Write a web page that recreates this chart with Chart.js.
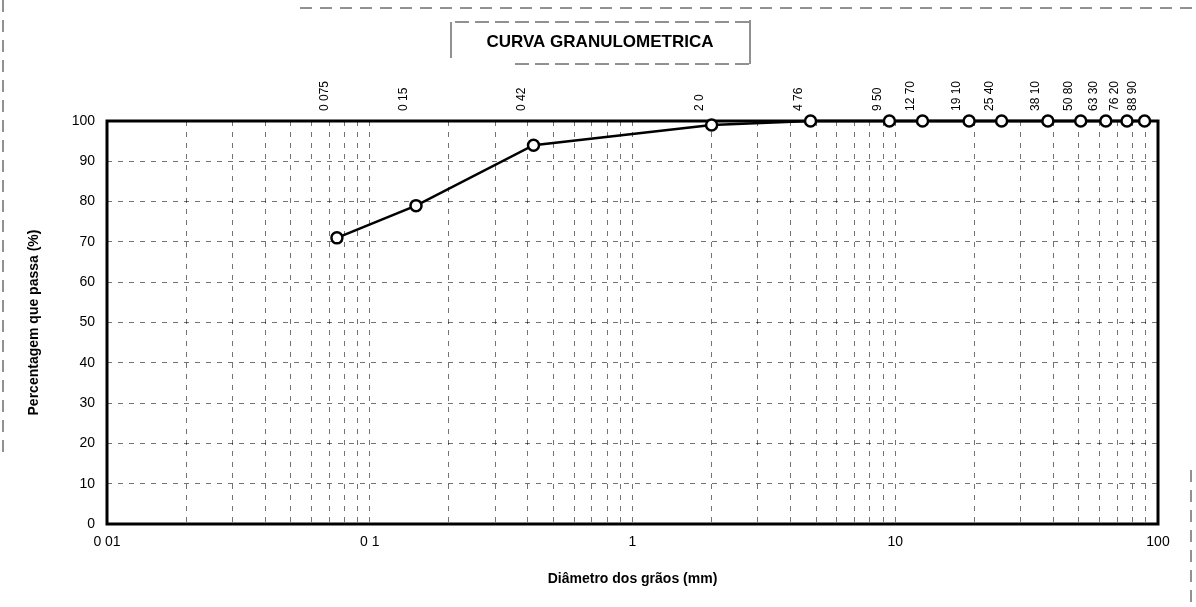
<!DOCTYPE html>
<html><head><meta charset="utf-8">
<script src="https://cdn.jsdelivr.net/npm/chart.js@4.4.0/dist/chart.umd.min.js"></script>
<style>html,body{margin:0;padding:0;background:#fff}#wrap{width:1196px;height:607px;position:relative}</style>
</head><body><div id="wrap"><canvas id="c" width="1196" height="607"></canvas></div>
<script>
const diameters = [0.075, 0.15, 0.42, 2.0, 4.76, 9.5, 12.7, 19.1, 25.4, 38.1, 50.8, 63.3, 76.2, 88.9];
const passing   = [71, 79, 94, 99, 100, 100, 100, 100, 100, 100, 100, 100, 100, 100];
const sieveLabels = ["0 075","0 15","0 42","2 0","4 76","9 50","12 70","19 10","25 40","38 10","50 80","63 30","76 20","88 90"];
const xTickLabels = {"0.01":"0 01","0.1":"0 1","1":"1","10":"10","100":"100"};
const chartTitle = "CURVA GRANULOMETRICA";

const F = "'Liberation Sans', Arial, sans-serif";

const frame = {
  id: 'frame',
  beforeDatasetsDraw(chart) {
    const {ctx, chartArea: a} = chart;
    ctx.save();
    ctx.strokeStyle = '#000'; ctx.lineWidth = 3;
    ctx.strokeRect(a.left, a.top, a.right - a.left, a.bottom - a.top);
    ctx.restore();
  }
};

const decor = {
  id: 'decor',
  afterDraw(chart) {
    const {ctx, chartArea: a, scales} = chart;
    ctx.save();
    // sieve labels
    ctx.fillStyle = '#000';
    ctx.font = '12px ' + F;
    ctx.textAlign = 'left'; ctx.textBaseline = 'middle';
    diameters.forEach((d, i) => {
      const x = scales.x.getPixelForValue(d) - 12;
      ctx.save();
      ctx.translate(x, a.top - 10);
      ctx.rotate(-Math.PI / 2);
      ctx.fillText(sieveLabels[i], 0, 0);
      ctx.restore();
    });
    // title with box
    ctx.font = 'bold 17px ' + F;
    ctx.textAlign = 'center';
    ctx.fillText(chartTitle, 600, 42);
    ctx.lineWidth = 1;
    ctx.strokeStyle = '#222';
    ctx.beginPath();
    ctx.moveTo(451, 22); ctx.lineTo(451, 58);
    ctx.moveTo(750, 20); ctx.lineTo(750, 64);
    ctx.stroke();
    ctx.setLineDash([14, 6]);
    ctx.beginPath();
    ctx.moveTo(455, 22); ctx.lineTo(750, 22);
    ctx.moveTo(515, 64); ctx.lineTo(750, 64);
    ctx.stroke();
    // page marks
    ctx.setLineDash([12, 8]);
    ctx.beginPath();
    ctx.moveTo(300, 8); ctx.lineTo(1196, 8);
    ctx.moveTo(3, 0); ctx.lineTo(3, 460);
    ctx.moveTo(1191, 470); ctx.lineTo(1191, 607);
    ctx.stroke();
    ctx.restore();
  }
};

new Chart(document.getElementById('c'), {
  type: 'line',
  data: {
    datasets: [{
      data: diameters.map((d, i) => ({x: d, y: passing[i]})),
      borderColor: '#000', borderWidth: 2.5,
      pointRadius: 5.5, pointBorderWidth: 2.5,
      pointBackgroundColor: '#fff', pointBorderColor: '#000',
      tension: 0, clip: false
    }]
  },
  options: {
    responsive: false, animation: false,
    layout: {padding: {left: 22, right: 38, top: 121, bottom: 15}},
    plugins: {legend: {display: false}, tooltip: {enabled: false}},
    scales: {
      x: {
        type: 'logarithmic', min: 0.01, max: 100,
        afterBuildTicks(s) {
          const t = [];
          for (let e = -2; e <= 1; e++) for (let m = 1; m <= 9; m++) t.push({value: +(m * Math.pow(10, e)).toPrecision(3)});
          t.push({value: 100});
          s.ticks = t;
        },
        afterFit(s) { s.height = 68; },
        ticks: {
          autoSkip: false, maxRotation: 0, minRotation: 0, padding: 10,
          color: '#000', font: {family: F, size: 14},
          callback(v) { return xTickLabels[String(v)] || ''; }
        },
        grid: {color: 'rgba(0,0,0,0.55)', lineWidth: 1, tickLength: 0, drawTicks: false},
        border: {display: false, dash: [5, 6]},
        title: {display: true, text: 'Diâmetro dos grãos (mm)', color: '#000', font: {family: F, size: 14, weight: 'bold'}, padding: {top: 4, bottom: 4}}
      },
      y: {
        min: 0, max: 100,
        afterFit(s) { s.width = 107 - 22; },
        ticks: {stepSize: 10, padding: 12, color: '#000', font: {family: F, size: 14}},
        grid: {color: 'rgba(0,0,0,0.55)', lineWidth: 1, drawTicks: false},
        border: {display: false, dash: [5, 6]},
        title: {display: true, text: 'Percentagem que passa (%)', color: '#000', font: {family: F, size: 14, weight: 'bold'}, padding: {top: 4, bottom: 4}}
      }
    }
  },
  plugins: [frame, decor]
});
</script></body></html>
